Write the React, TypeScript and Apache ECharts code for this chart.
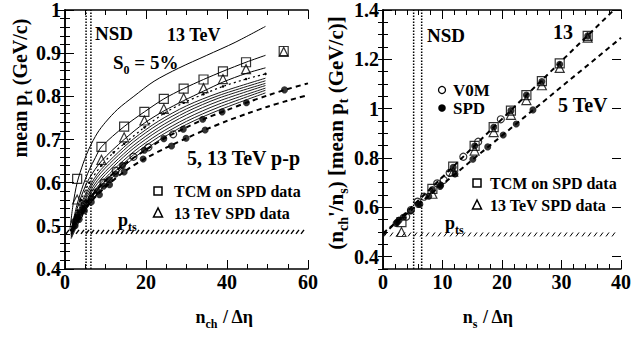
import React, { useEffect, useRef } from 'react';
import * as echarts from 'echarts';

const FONT = '"Liberation Serif", "Times New Roman", serif';

// ---------- Left panel data ----------
const L_TOP_X = [1.2, 2, 3, 4.5, 6, 8, 10, 13, 17, 22, 28, 35, 42, 49.5];
const L_TOP_Y = [0.49, 0.55, 0.6, 0.645, 0.68, 0.715, 0.74, 0.77, 0.8, 0.835, 0.865, 0.895, 0.925, 0.962];
const L_C2_X = [1.5, 3, 4.5, 6, 7.5, 9, 14.6, 19.6, 24.4, 29.3, 34.2, 39, 44.7, 49.5];
const L_C2_Y = [0.49, 0.55, 0.595, 0.63, 0.658, 0.683, 0.73, 0.764, 0.794, 0.818, 0.839, 0.858, 0.879, 0.895];
const L_C3_X = [1.5, 3, 4.5, 6, 9, 14.6, 19.6, 24.4, 29.3, 34.2, 39, 44.7, 49.5];
const L_C3_Y = [0.487, 0.54, 0.58, 0.61, 0.65, 0.7, 0.738, 0.766, 0.79, 0.812, 0.833, 0.853, 0.866];
const L_DD_X = [1.5, 2.5, 4, 6, 9, 12, 14.6, 19.6, 24.4, 29.3, 34.2, 39, 44.7, 49.5];
const L_DD_Y = [0.49, 0.52, 0.56, 0.6, 0.64, 0.67, 0.69, 0.728, 0.76, 0.785, 0.805, 0.823, 0.84, 0.852];
const BAND_X = [1.5, 3, 5, 8, 12, 17, 23, 30, 38, 49.5];
const BAND_1 = [0.485, 0.528, 0.572, 0.62, 0.66, 0.702, 0.742, 0.778, 0.808, 0.842];
const BAND_2 = [0.483, 0.523, 0.566, 0.613, 0.653, 0.695, 0.735, 0.771, 0.802, 0.836];
const BAND_3 = [0.48, 0.518, 0.56, 0.605, 0.645, 0.687, 0.727, 0.764, 0.796, 0.83];
const BAND_4 = [0.478, 0.514, 0.553, 0.598, 0.638, 0.68, 0.72, 0.757, 0.789, 0.825];
const BAND_5 = [0.476, 0.509, 0.547, 0.59, 0.63, 0.672, 0.712, 0.749, 0.782, 0.819];
const BAND_6 = [0.473, 0.505, 0.541, 0.583, 0.623, 0.665, 0.705, 0.742, 0.775, 0.814];
const BAND_7 = [0.47, 0.5, 0.535, 0.575, 0.615, 0.657, 0.697, 0.735, 0.768, 0.808];
const L_PP13_X = [2, 5, 10, 15, 20, 25, 30, 35, 40, 45, 50, 55, 60];
const L_PP13_Y = [0.5, 0.55, 0.605, 0.645, 0.676, 0.705, 0.728, 0.75, 0.768, 0.786, 0.802, 0.817, 0.83];
const L_PP5_X = [2, 5, 10, 15, 20, 25, 30, 35, 40, 45, 50, 55, 60];
const L_PP5_Y = [0.49, 0.54, 0.59, 0.628, 0.657, 0.681, 0.703, 0.724, 0.743, 0.76, 0.776, 0.79, 0.803];
const L_SQ_X = [3, 9, 14.6, 19.6, 24.4, 29.3, 34.2, 39, 44.7, 54];
const L_SQ_Y = [0.609, 0.683, 0.73, 0.764, 0.794, 0.818, 0.839, 0.858, 0.879, 0.905];
const L_TRI_Y = [0.561, 0.653, 0.705, 0.744, 0.771, 0.796, 0.819, 0.84, 0.863, 0.903];
const L_SPD13_X = [2.3, 3, 3.7, 4.5, 5.3, 6.5, 8, 9.5, 11, 12.5, 14.2, 19.6, 24.4, 29.2, 34, 38.8, 44.8, 54.2];
const L_SPD13_Y = [0.51, 0.52, 0.53, 0.54, 0.552, 0.565, 0.58, 0.592, 0.607, 0.62, 0.64, 0.675, 0.702, 0.724, 0.747, 0.764, 0.785, 0.815];
const L_SPD5_X = [2.5, 3.5, 4.8, 6.5, 8.5, 11, 14.6, 19.3, 26.3, 29.9, 34.6];
const L_SPD5_Y = [0.5, 0.515, 0.535, 0.555, 0.572, 0.595, 0.625, 0.655, 0.685, 0.703, 0.722];
const L_V0M_X = [3.5, 5, 7, 9.5, 12.5, 16.9, 20.6, 26.7];
const L_V0M_Y = [0.525, 0.55, 0.575, 0.6, 0.628, 0.66, 0.682, 0.712];
const L_NSD = [5.2, 6.4];
const L_PTS = 0.486;

// ---------- Right panel data ----------
const R_L13_X = [0, 38.8];
const R_L13_Y = [0.488, 1.4];
const R_L5_X = [0, 40];
const R_L5_Y = [0.495, 1.287];
const R_SQ_X = [3.1, 8.3, 11.8, 15.4, 18.6, 21.5, 24.1, 26.7, 29.7, 34.4];
const R_SQ_Y = [0.54, 0.675, 0.765, 0.849, 0.925, 0.992, 1.055, 1.112, 1.184, 1.295];
const R_TRI_Y = [0.5, 0.655, 0.745, 0.83, 0.905, 0.975, 1.035, 1.095, 1.165, 1.288];
const R_SPD13_X = [2.2, 2.7, 5.9, 8.3, 9.7, 11.8, 15.4, 18.6, 21.5, 24.1, 26.7, 29.7, 34.4];
const R_SPD13_Y = [0.535, 0.548, 0.612, 0.672, 0.69, 0.762, 0.849, 0.925, 0.992, 1.055, 1.11, 1.18, 1.295];
const R_SPD5_X = [2.4, 3.4, 4.6, 6.2, 7.7, 9.6, 12.1, 15.1, 17.6, 20.2, 22.4, 25.2];
const R_SPD5_Y = [0.54, 0.56, 0.585, 0.612, 0.645, 0.685, 0.735, 0.795, 0.845, 0.893, 0.938, 0.995];
const R_V0M_X = [3.9, 4.7, 5.8, 6.9, 9.1, 10.2, 11.2, 13.5, 16, 19.8];
const R_V0M_Y = [0.562, 0.589, 0.623, 0.643, 0.697, 0.711, 0.74, 0.805, 0.866, 0.957];
const R_NSD = [5.15, 6.5];
const R_PTS = 0.49;
const R_Y_MAJOR = [0.4, 0.6, 0.8, 1.0, 1.2, 1.4];

const pts = (xs: number[], ys: number[]) => xs.map((x, i) => [x, ys[i]]);

const curve = (xs: number[], ys: number[], g: number, extra: any = {}) => ({
  type: 'line', xAxisIndex: g, yAxisIndex: g, data: pts(xs, ys), smooth: 0.3,
  showSymbol: false, symbol: 'none', silent: true, z: 2,
  lineStyle: { color: '#000', width: 1, ...(extra.lineStyle || {}) },
  ...Object.fromEntries(Object.entries(extra).filter(([k]) => k !== 'lineStyle')),
});

const marks = (xs: number[], ys: number[], g: number, symbol: string, size: number, filled: boolean) => ({
  type: 'scatter', xAxisIndex: g, yAxisIndex: g, data: pts(xs, ys), symbol, symbolSize: size, silent: true, z: 5,
  itemStyle: filled ? { color: '#000' } : { color: 'rgba(0,0,0,0)', borderColor: '#000', borderWidth: 1.2 },
});

const vline = (x: number, y0: number, y1: number, g: number) => ({
  type: 'line', xAxisIndex: g, yAxisIndex: g, data: [[x, y0], [x, y1]], symbol: 'none', silent: true, z: 1,
  lineStyle: { color: '#000', width: 1.5, type: [1.5, 1.5] },
});

const hatch = (val: number, g: number, step: number, lw: number) => ({
  type: 'custom', xAxisIndex: g, yAxisIndex: g, data: [[0, val]], silent: true, z: 1,
  renderItem: (params: any, api: any) => {
    const cs = params.coordSys;
    const y = api.coord([0, api.value(1)])[1];
    const children: any[] = [];
    for (let x = cs.x + 1; x < cs.x + cs.width - 3; x += step) {
      children.push({ type: 'line', shape: { x1: x, y1: y + 2, x2: x + 3, y2: y - 2 }, style: { stroke: '#000', lineWidth: lw } });
    }
    return { type: 'group', children };
  },
});

const labelStyle = { fontFamily: FONT, fontWeight: 'bold', fontSize: 20, color: '#000' };
const lineAx = { show: true, lineStyle: { color: '#000', width: 1.5 } };

const xAx = (g: number, max: number, interval: number, split: number, pos: string, labels: boolean) => ({
  type: 'value', gridIndex: g, min: 0, max, interval, position: pos,
  axisLine: lineAx, splitLine: { show: false },
  axisTick: { show: true, inside: true, length: 9, lineStyle: { color: '#000', width: 1 } },
  minorTick: { show: true, splitNumber: split, length: 5, lineStyle: { color: '#000', width: 1 } },
  axisLabel: labels ? { ...labelStyle, margin: 3 } : { show: false },
});

const richFor = (fs: number) => ({
  m: { fontFamily: FONT, fontWeight: 'bold', fontSize: fs, lineHeight: fs + 8, fill: '#000' },
  s: { fontFamily: FONT, fontWeight: 'bold', fontSize: Math.round(fs * 0.65), lineHeight: Math.round(fs * 0.65), verticalAlign: 'bottom', fill: '#000' },
});

const TEXT = (x: number, y: number, text: string, fs: number, extra: any = {}) => ({
  type: 'text', x, y, silent: true,
  style: {
    text, fill: '#000', font: `bold ${fs}px ${FONT}`, align: 'left', verticalAlign: 'middle',
    rich: richFor(fs),
    ...extra,
  },
});

const VTEXT = (x: number, y: number, text: string, fs: number) => ({
  type: 'text', x, y, rotation: Math.PI / 2, silent: true,
  style: { text, align: 'center', verticalAlign: 'middle', fill: '#000', rich: richFor(fs) },
});

export default function App() {
  const ref = useRef<HTMLDivElement>(null);
  useEffect(() => {
    if (!ref.current) return;
    const chart = echarts.init(ref.current, null, { renderer: 'svg' });
    const bandStyle = { lineStyle: { width: 0.9 } };
    const option: any = {
      animation: false,
      backgroundColor: '#fff',
      grid: [
        { left: 65, top: 10, width: 243, height: 259 },
        { left: 383, top: 10, width: 243, height: 259 },
      ],
      xAxis: [
        xAx(0, 60, 20, 4, 'bottom', true),
        xAx(1, 40, 10, 5, 'bottom', true),
        xAx(0, 60, 20, 4, 'top', false),
        xAx(1, 40, 10, 5, 'top', false),
      ],
      yAxis: [
        {
          type: 'value', gridIndex: 0, min: 0.4, max: 1, interval: 0.1, position: 'left',
          axisLine: lineAx, splitLine: { show: false },
          axisTick: { show: true, inside: true, length: 9, lineStyle: { color: '#000' } },
          minorTick: { show: true, splitNumber: 5, length: 5, lineStyle: { color: '#000' } },
          axisLabel: { ...labelStyle, margin: 4, formatter: (v: number) => String(Math.round(v * 10) / 10) },
        },
        {
          type: 'value', gridIndex: 1, min: 0.35, max: 1.4, interval: 0.05, position: 'left',
          axisLine: lineAx, splitLine: { show: false },
          axisTick: { show: true, inside: true, length: 5, lineStyle: { color: '#000' } },
          axisLabel: {
            ...labelStyle, margin: 4,
            formatter: (v: number) => { const r = Math.round(v * 100); return r % 20 === 0 ? String(r / 100) : ''; },
          },
        },
        {
          type: 'value', gridIndex: 0, min: 0.4, max: 1, interval: 0.1, position: 'right',
          axisLine: lineAx, splitLine: { show: false },
          axisTick: { show: true, inside: true, length: 9, lineStyle: { color: '#000' } },
          minorTick: { show: true, splitNumber: 5, length: 5, lineStyle: { color: '#000' } },
          axisLabel: { show: false },
        },
        {
          type: 'value', gridIndex: 1, min: 0.35, max: 1.4, interval: 0.05, position: 'right',
          axisLine: lineAx, splitLine: { show: false },
          axisTick: { show: true, inside: true, length: 5, lineStyle: { color: '#000' } },
          axisLabel: { show: false },
        },
        {
          type: 'value', gridIndex: 1, min: 0.35, max: 1.4, position: 'left',
          axisLine: { show: false }, splitLine: { show: false },
          axisTick: { show: true, inside: true, length: 9, customValues: R_Y_MAJOR, lineStyle: { color: '#000' } },
          axisLabel: { show: false },
        },
        {
          type: 'value', gridIndex: 1, min: 0.35, max: 1.4, position: 'right',
          axisLine: { show: false }, splitLine: { show: false },
          axisTick: { show: true, inside: true, length: 9, customValues: R_Y_MAJOR, lineStyle: { color: '#000' } },
          axisLabel: { show: false },
        },
      ],
      series: [
        // left
        vline(L_NSD[0], 0.4, 1, 0),
        vline(L_NSD[1], 0.4, 1, 0),
        hatch(L_PTS, 0, 5, 1.4),
        curve(L_TOP_X, L_TOP_Y, 0),
        curve(L_C2_X, L_C2_Y, 0),
        curve(L_C3_X, L_C3_Y, 0),
        {
          ...curve(L_DD_X, L_DD_Y, 0, { lineStyle: { type: [2, 3], width: 1.2 } }),
          showSymbol: true, symbol: 'circle', symbolSize: 2.5, itemStyle: { color: '#000' },
        },
        curve(BAND_X, BAND_1, 0, bandStyle),
        curve(BAND_X, BAND_2, 0, bandStyle),
        curve(BAND_X, BAND_3, 0, bandStyle),
        curve(BAND_X, BAND_4, 0, bandStyle),
        curve(BAND_X, BAND_5, 0, bandStyle),
        curve(BAND_X, BAND_6, 0, bandStyle),
        curve(BAND_X, BAND_7, 0, bandStyle),
        curve(L_PP13_X, L_PP13_Y, 0, { lineStyle: { type: [5, 4], width: 2 } }),
        curve(L_PP5_X, L_PP5_Y, 0, { lineStyle: { type: [5, 4], width: 2 } }),
        marks(L_SPD13_X, L_SPD13_Y, 0, 'circle', 7, true),
        marks(L_SPD5_X, L_SPD5_Y, 0, 'circle', 7, true),
        marks(L_V0M_X, L_V0M_Y, 0, 'circle', 7, false),
        marks(L_SQ_X, L_SQ_Y, 0, 'rect', 9, false),
        marks(L_SQ_X, L_TRI_Y, 0, 'triangle', 9, false),
        // right
        vline(R_NSD[0], 0.35, 1.4, 1),
        vline(R_NSD[1], 0.35, 1.4, 1),
        hatch(R_PTS, 1, 6, 1),
        curve(R_L13_X, R_L13_Y, 1, { smooth: false, lineStyle: { type: [5, 4], width: 2 } }),
        curve(R_L5_X, R_L5_Y, 1, { smooth: false, lineStyle: { type: [5, 4], width: 2 } }),
        marks(R_SPD5_X, R_SPD5_Y, 1, 'circle', 7, true),
        marks(R_V0M_X, R_V0M_Y, 1, 'circle', 7, false),
        marks(R_SQ_X, R_SQ_Y, 1, 'rect', 9, false),
        marks(R_SQ_X, R_TRI_Y, 1, 'triangle', 9, false),
        marks(R_SPD13_X, R_SPD13_Y, 1, 'circle', 7, true),
      ],
      graphic: [
        // axis titles
        VTEXT(20, 88, '{m|mean p}{s|t}{m| (GeV/c)}', 20),
        VTEXT(336, 133, "{m|(n}{s|ch}{m|'/n}{s|s}{m|) [mean p}{s|t}{m| (GeV/c)]}", 21),
        TEXT(253, 317, '{m|n}{s|ch}{m| / Δη}', 18, { align: 'right' }),
        TEXT(513, 317, '{m|n}{s|s}{m| / Δη}', 18, { align: 'right' }),
        // left texts
        TEXT(95, 33, 'NSD', 19),
        TEXT(167, 35, '13 TeV', 18),
        TEXT(113, 62, '{m|S}{s|0}{m| = 5%}', 19),
        TEXT(187, 158, '5, 13 TeV p-p', 20),
        TEXT(174, 191, 'TCM on SPD data', 16),
        TEXT(174, 213, '13 TeV SPD data', 16),
        TEXT(118, 220, '{m|p}{s|ts}', 18),
        { type: 'rect', shape: { x: 154, y: 187, width: 8, height: 8 }, style: { fill: 'none', stroke: '#000', lineWidth: 1.5 } },
        { type: 'polygon', shape: { points: [[158, 208], [153.5, 217], [162.5, 217]] }, style: { fill: 'none', stroke: '#000', lineWidth: 1.5 } },
        // right texts
        TEXT(427, 35, 'NSD', 19),
        TEXT(553, 32, '13', 20),
        TEXT(558, 105, '5 TeV', 20),
        TEXT(453, 90, 'V0M', 17),
        TEXT(453, 108, 'SPD', 17),
        { type: 'circle', shape: { cx: 442, cy: 90, r: 3.5 }, style: { fill: 'none', stroke: '#000', lineWidth: 1.3 } },
        { type: 'circle', shape: { cx: 442, cy: 108, r: 3.8 }, style: { fill: '#000' } },
        TEXT(490, 183, 'TCM on SPD data', 16),
        TEXT(490, 205, '13 TeV SPD data', 16),
        { type: 'rect', shape: { x: 473, y: 179, width: 8, height: 8 }, style: { fill: 'none', stroke: '#000', lineWidth: 1.5 } },
        { type: 'polygon', shape: { points: [[477, 200], [472.5, 209], [481.5, 209]] }, style: { fill: 'none', stroke: '#000', lineWidth: 1.5 } },
        TEXT(445, 223, '{m|p}{s|ts}', 18),
      ],
    };
    chart.setOption(option);
    return () => chart.dispose();
  }, []);
  return <div ref={ref} style={{ width: 634, height: 339, position: 'absolute', left: 0, top: 0 }} />;
}
